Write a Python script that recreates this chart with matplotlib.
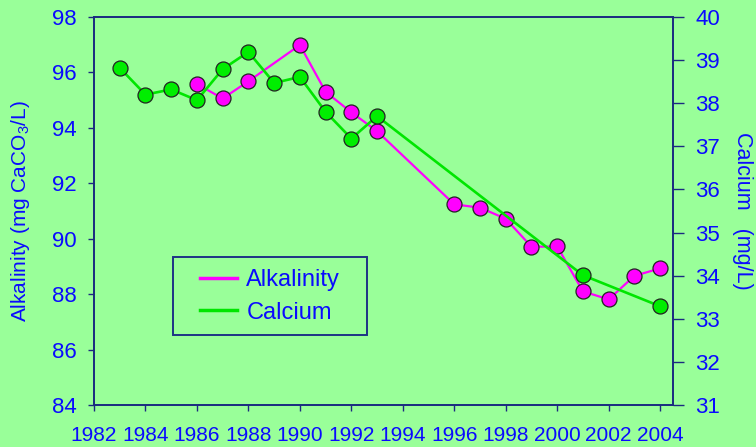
import matplotlib
matplotlib.use("Agg")
import matplotlib.pyplot as plt

plt.rcParams['font.family'] = ['Liberation Sans', 'DejaVu Sans']
plt.rcParams['mathtext.fontset'] = 'custom'
plt.rcParams['mathtext.rm'] = 'Liberation Sans'
plt.rcParams['mathtext.default'] = 'regular'

years_alk = [1986, 1987, 1988, 1990, 1991, 1992, 1993, 1996, 1997, 1998,
             1999, 2000, 2001, 2002, 2003, 2004]
alkalinity = [95.58, 95.06, 95.68, 96.99, 95.30, 94.56, 93.88, 91.24, 91.12,
              90.72, 89.71, 89.72, 88.10, 87.81, 88.66, 88.93]

years_ca = [1983, 1984, 1985, 1986, 1987, 1988, 1989, 1990, 1991, 1992, 1993,
            2001, 2004]
calcium = [38.82, 38.20, 38.32, 38.07, 38.79, 39.19, 38.47, 38.61, 37.80,
           37.18, 37.70, 34.01, 33.29]

x_ticks = list(range(1982, 2005, 2))
left_ticks = list(range(84, 99, 2))
right_ticks = list(range(31, 41))

BG = '#99ff99'
TXT = '#0a0aff'
SPINE = '#1a2a80'

fig = plt.figure(figsize=(7.56, 4.47), dpi=100, facecolor=BG)
ax = fig.add_axes([94/756, 1-405/447, (673-94)/756, (405-17)/447])
ax.set_facecolor(BG)
ax2 = ax.twinx()

l1, = ax.plot(years_alk, alkalinity, color='#ff00ff', lw=1.6, marker='o',
              ms=10.8, mfc='#ff00ff', mec='#222222', mew=0.9, zorder=3)
l2, = ax2.plot(years_ca, calcium, color='#00e600', lw=1.9, marker='o',
               ms=10.8, mfc='#00ee00', mec='#222222', mew=0.9, zorder=3)

ax.set_xlim(1982, 2004.5)
ax.set_ylim(84, 98)
ax2.set_ylim(31, 40)
ax.set_xticks(x_ticks)
ax.set_yticks(left_ticks)
ax2.set_yticks(right_ticks)

for a in (ax, ax2):
    for s in a.spines.values():
        s.set_color(SPINE)
        s.set_linewidth(1.2)

ax.tick_params(axis='x', direction='out', length=4, width=1, color=SPINE,
               labelsize=15, labelcolor=TXT, pad=11)
ax.tick_params(axis='y', direction='out', length=4.5, width=1, color=SPINE,
               labelsize=16, labelcolor=TXT, pad=8)
ax2.tick_params(axis='y', direction='out', length=8, width=1, color=SPINE,
                labelsize=16, labelcolor=TXT, pad=8)

ax.set_ylabel(r'Alkalinity (mg CaCO$_3$/L)', color=TXT, fontsize=15)
ax.yaxis.set_label_coords(-62/579, 0.5)
ax2.set_ylabel('Calcium   (mg/L)', color=TXT, fontsize=15.5, rotation=270,
               va='center')
ax2.yaxis.set_label_coords(1 + 70/579, 0.5)

FS = 17
fs_px = FS * 100 / 72
extra = 15  # extra horizontal frame padding in pixels
leg = ax2.legend([l1, l2], ['Alkalinity', 'Calcium'], loc='upper left',
                 bbox_to_anchor=((173 + extra)/756, 1-257/447),
                 bbox_transform=fig.transFigure, fontsize=FS, frameon=True,
                 fancybox=False, shadow=False, borderpad=0.5,
                 handlelength=1.57, handletextpad=0.4, labelspacing=0.46,
                 borderaxespad=0)
for h in leg.get_lines():
    h.set_marker('')
    h.set_linewidth(2.5)
frame = leg.get_frame()
frame.set_facecolor(BG)
frame.set_edgecolor('#000080')
frame.set_linewidth(1.4)
frame.set_boxstyle('square', pad=extra / fs_px)
frame.set_mutation_aspect(1e-4)
for t in leg.get_texts():
    t.set_color(TXT)

fig.savefig('out.png', dpi=100, facecolor=BG)
